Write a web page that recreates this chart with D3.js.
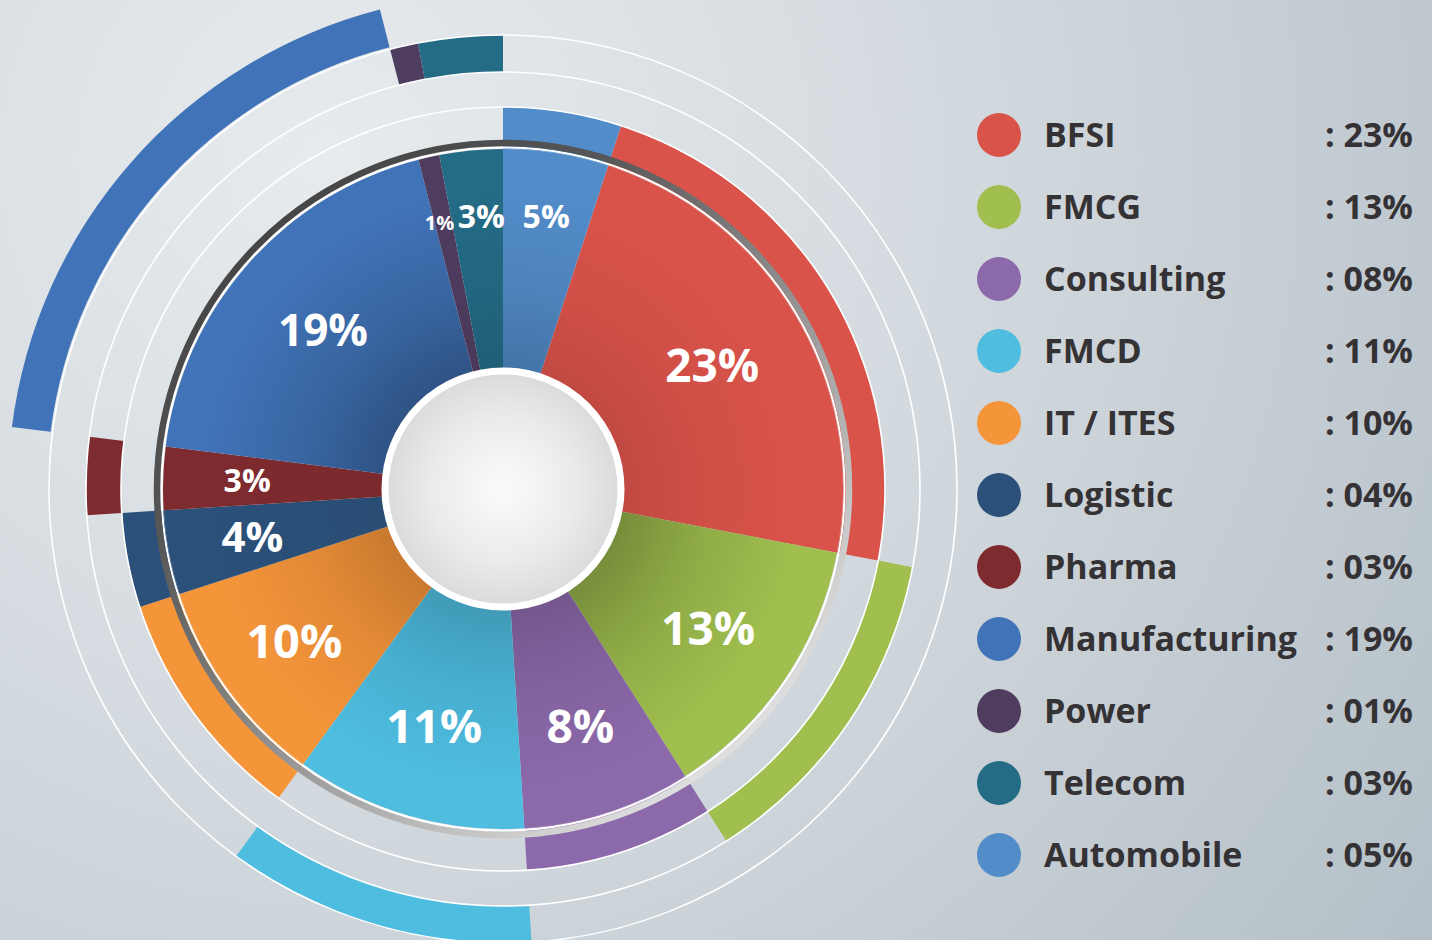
<!DOCTYPE html>
<html>
<head>
<meta charset="utf-8">
<script src="https://cdn.jsdelivr.net/npm/d3@7"></script>
<style>
  body { margin: 0; padding: 0; overflow: hidden; }
  #chart-area svg { display: block; }
</style>
</head>
<body>
<div id="chart-area"></div>
<script>
// Data (legend order)
const categories = ["BFSI", "FMCG", "Consulting", "FMCD", "IT / ITES", "Logistic",
  "Pharma", "Manufacturing", "Power", "Telecom", "Automobile"];
const shares = [23, 13, 8, 11, 10, 4, 3, 19, 1, 3, 5];
const colors = ["#d9534a", "#a0bf4e", "#8c69aa", "#4ebde0", "#f5953a", "#2b5079",
  "#7e2b2f", "#4173b8", "#4f3d5f", "#246b85", "#528cc9"];

// Styling per category (outer track ring, label size / distance, shading)
const trackLevel = { "BFSI": 0, "FMCG": 1, "Consulting": 0, "FMCD": 2, "IT / ITES": 0,
  "Logistic": 0, "Pharma": 1, "Manufacturing": 3, "Power": 2, "Telecom": 2, "Automobile": 0 };
const labelSize = { "BFSI": 46, "FMCG": 46, "Consulting": 46, "FMCD": 47, "IT / ITES": 47,
  "Logistic": 42, "Pharma": 32, "Manufacturing": 44, "Power": 20, "Telecom": 32, "Automobile": 32 };
const labelRadius = { "BFSI": 243, "FMCG": 248, "Consulting": 250, "FMCD": 247, "IT / ITES": 258,
  "Logistic": 255, "Pharma": 256, "Manufacturing": 240, "Power": 273, "Telecom": 274, "Automobile": 276 };
const labelNudge = { "Power": -4, "Telecom": 4 };
const hubShade = { "BFSI": 0.35, "FMCG": 0.9, "Consulting": 0.55, "FMCD": 0.6, "IT / ITES": 0.6,
  "Logistic": 0.15, "Pharma": 0.1, "Manufacturing": 1.0, "Power": 0.2, "Telecom": 0.35, "Automobile": 0.55 };

let data = categories.map((c, i) => ({ name: c, value: shares[i], color: colors[i] }));

// SVG container
let width = 1432, height = 940;
let cx = 503, cy = 489;
let fontStack = "'Open Sans', 'Lato', 'DejaVu Sans', sans-serif";

let svg = d3
  .select("#chart-area")
  .append("svg")
  .attr("width", width)
  .attr("height", height);

let defs = svg.append("defs");

// Background gradient
let bg = defs.append("radialGradient")
  .attr("id", "bg")
  .attr("gradientUnits", "userSpaceOnUse")
  .attr("cx", 330).attr("cy", 160).attr("r", 1350);
bg.append("stop").attr("offset", 0).attr("stop-color", "#e7ebee");
bg.append("stop").attr("offset", 0.55).attr("stop-color", "#cfd6db");
bg.append("stop").attr("offset", 1).attr("stop-color", "#b4bfc7");

svg.append("rect")
  .attr("width", width)
  .attr("height", height)
  .attr("fill", "url(#bg)");

let g = svg.append("g")
  .attr("transform", "translate(" + cx + "," + cy + ")");

// Pie layout, Automobile sits at 12 o'clock
let total = d3.sum(shares);
let a0 = 2 * Math.PI * shares[shares.length - 1] / total;
let pie = d3.pie()
  .sort(null)
  .value(d => d.value)
  .startAngle(a0)
  .endAngle(a0 + 2 * Math.PI);
let arcsData = pie(data);

let rInner = 118, rOuter = 340;
let tracks = [[340, 382], [382, 417], [417, 454], [456, 495]];

// Slice gradients (darker towards the hub)
arcsData.forEach((d, i) => {
  let grad = defs.append("radialGradient")
    .attr("id", "slice" + i)
    .attr("gradientUnits", "userSpaceOnUse")
    .attr("cx", 0).attr("cy", 0).attr("r", rOuter);
  let base = d3.color(d.data.color);
  let k = hubShade[d.data.name];
  grad.append("stop").attr("offset", 0.33).attr("stop-color", base.darker(k));
  grad.append("stop").attr("offset", 0.6).attr("stop-color", base.darker(k * 0.35));
  grad.append("stop").attr("offset", 0.88).attr("stop-color", base);
});

// Outer track bands
g.selectAll(".band")
  .data(arcsData)
  .enter()
  .append("path")
  .attr("class", "band")
  .attr("fill", d => d.data.color)
  .attr("d", d => {
    let t = tracks[trackLevel[d.data.name]];
    return d3.arc().innerRadius(t[0]).outerRadius(t[1])(d);
  });

// Thin white track circles
[382, 417, 454].forEach(r => {
  g.append("circle")
    .attr("r", r)
    .attr("fill", "none")
    .attr("stroke", "#ffffff")
    .attr("stroke-width", 1.6);
});

// Pie slices
let arc = d3.arc().innerRadius(0).outerRadius(rOuter);
g.selectAll(".slice")
  .data(arcsData)
  .enter()
  .append("path")
  .attr("class", "slice")
  .attr("fill", (d, i) => "url(#slice" + i + ")")
  .attr("d", arc);

// Gray rim around pie
let rim = defs.append("linearGradient")
  .attr("id", "rim")
  .attr("x1", 0.15).attr("y1", 0.1)
  .attr("x2", 0.85).attr("y2", 0.9);
rim.append("stop").attr("offset", 0).attr("stop-color", "#444444");
rim.append("stop").attr("offset", 0.25).attr("stop-color", "#575757");
rim.append("stop").attr("offset", 0.55).attr("stop-color", "#8f8f8f");
rim.append("stop").attr("offset", 0.85).attr("stop-color", "#c9c9c9");
rim.append("stop").attr("offset", 1).attr("stop-color", "#e4e4e4");

g.append("circle")
  .attr("r", 341.5)
  .attr("fill", "none")
  .attr("stroke", "#ffffff")
  .attr("stroke-width", 2);

g.append("circle")
  .attr("r", 346)
  .attr("fill", "none")
  .attr("stroke", "url(#rim)")
  .attr("stroke-width", 6.5);

// Hub
let hub = defs.append("radialGradient")
  .attr("id", "hub");
hub.append("stop").attr("offset", 0).attr("stop-color", "#fbfbfb");
hub.append("stop").attr("offset", 0.6).attr("stop-color", "#eaebec");
hub.append("stop").attr("offset", 1).attr("stop-color", "#d9dadc");

g.append("circle")
  .attr("r", rInner)
  .attr("fill", "url(#hub)")
  .attr("stroke", "#ffffff")
  .attr("stroke-width", 7);

// Slice labels
g.selectAll(".slice-label")
  .data(arcsData)
  .enter()
  .append("text")
  .attr("class", "slice-label")
  .attr("x", d => labelRadius[d.data.name] * Math.sin((d.startAngle + d.endAngle) / 2)
    + (labelNudge[d.data.name] || 0))
  .attr("y", d => -labelRadius[d.data.name] * Math.cos((d.startAngle + d.endAngle) / 2))
  .attr("text-anchor", "middle")
  .attr("dy", d => labelSize[d.data.name] * 0.36)
  .style("font-family", fontStack)
  .style("font-weight", 700)
  .style("font-size", d => labelSize[d.data.name] + "px")
  .attr("fill", "#ffffff")
  .text(d => d.data.value + "%");

// Legend
let legend = svg.append("g")
  .attr("class", "legend")
  .attr("transform", "translate(999,135)");

let rows = legend.selectAll(".row")
  .data(data)
  .enter()
  .append("g")
  .attr("class", "row")
  .attr("transform", (d, i) => "translate(0," + i * 72 + ")");

rows.append("circle")
  .attr("r", 22)
  .attr("fill", d => d.color);

rows.append("text")
  .attr("x", 45)
  .attr("y", 12)
  .style("font-family", fontStack)
  .style("font-weight", 700)
  .style("font-size", "34px")
  .attr("fill", "#353235")
  .text(d => d.name);

rows.append("text")
  .attr("x", 414)
  .attr("y", 12)
  .attr("text-anchor", "end")
  .style("font-family", fontStack)
  .style("font-weight", 700)
  .style("font-size", "34px")
  .attr("fill", "#353235")
  .text(d => ": " + d3.format("02d")(d.value) + "%");
</script>
</body>
</html>
